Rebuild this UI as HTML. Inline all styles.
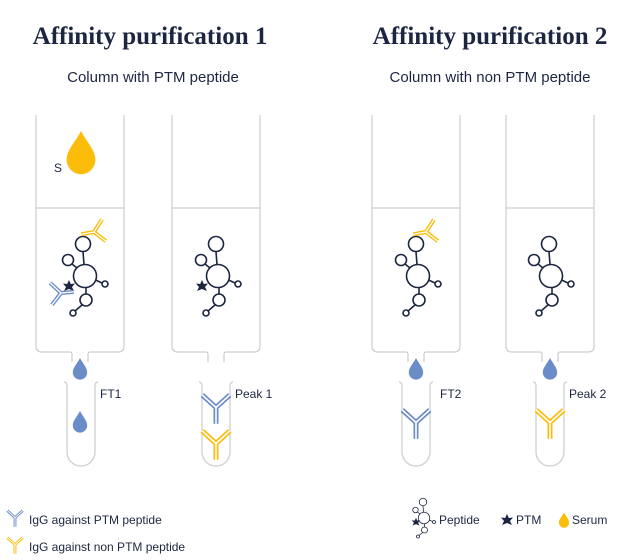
<!DOCTYPE html>
<html><head><meta charset="utf-8"><style>
body{margin:0;background:#fff}
svg{display:block}
.t{font-family:"Liberation Serif",serif;font-size:25px;fill:#1c2640;font-weight:bold}
.s{font-family:"Liberation Sans",sans-serif;font-size:15px;fill:#1c2640}
.l{font-family:"Liberation Sans",sans-serif;font-size:12px;fill:#1c2640}
</style></head><body>
<svg width="640" height="560" viewBox="0 0 640 560" xmlns="http://www.w3.org/2000/svg">
<defs>
<g id="pep" fill="none" stroke="#1c2640" stroke-width="1.6">
<circle cx="0" cy="0" r="11.5"/>
<circle cx="-2" cy="-32" r="7.5"/>
<circle cx="-17" cy="-16" r="5.5"/>
<circle cx="1" cy="24" r="6"/>
<circle cx="-12" cy="37" r="3"/>
<circle cx="20" cy="8" r="3"/>
<line x1="-1" y1="-11.5" x2="-2" y2="-24.5"/>
<line x1="-8" y1="-8" x2="-13" y2="-12"/>
<line x1="1" y1="11.5" x2="1" y2="18"/>
<line x1="-3" y1="29" x2="-10" y2="35"/>
<line x1="10.5" y1="4" x2="17" y2="7"/>
</g>
<path id="star" d="M0,-6 L1.8,-2 6,-2.5 3,1 5,5 0,3 -5,5 -3,1 -6,-2.5 -1.8,-2Z" fill="#1c2640"/>
<g id="abB"><path d="M-11,-12 L0,-2 L11,-12 M0,-2 V11" fill="none" stroke="#6a8cc9" stroke-width="4"/><path d="M-11,-12 L0,-2 L11,-12 M0,-2 V11" fill="none" stroke="#fff" stroke-width="1.3"/></g>
<g id="abY"><path d="M-11,-12 L0,-2 L11,-12 M0,-2 V11" fill="none" stroke="#fbbc0a" stroke-width="4"/><path d="M-11,-12 L0,-2 L11,-12 M0,-2 V11" fill="none" stroke="#fff" stroke-width="1.3"/></g>
<path id="drop" d="M0,-10 C2,-6 6,-2 6,2 A6,6 0 0 1 -6,2 C-6,-2 -2,-6 0,-10Z"/>
</defs>

<text class="t" x="150" y="44" text-anchor="middle">Affinity purification 1</text>
<text class="t" x="490" y="44" text-anchor="middle">Affinity purification 2</text>
<text class="s" x="153" y="82" text-anchor="middle">Column with PTM peptide</text>
<text class="s" x="490" y="82" text-anchor="middle">Column with non PTM peptide</text>

<g fill="none" stroke="#cfcfcf" stroke-width="1.3">
<path d="M36,115 V346 Q36,352 42,352 H70 Q72,352 72,355 V362 M88,362 V355 Q88,352 90,352 H118 Q124,352 124,346 V115 M36,208 H124"/>
<path d="M172,115 V346 Q172,352 178,352 H206 Q208,352 208,355 V362 M224,362 V355 Q224,352 226,352 H254 Q260,352 260,346 V115 M172,208 H260"/>
<path d="M372,115 V346 Q372,352 378,352 H406 Q408,352 408,355 V362 M424,362 V355 Q424,352 426,352 H454 Q460,352 460,346 V115 M372,208 H460"/>
<path d="M506,115 V346 Q506,352 512,352 H540 Q542,352 542,355 V362 M558,362 V355 Q558,352 560,352 H588 Q594,352 594,346 V115 M506,208 H594"/>
<path d="M64,382 Q67,382 67,386 V452 A14,14 0 0 0 95,452 V386 Q95,382 98,382"/>
<path d="M199,382 Q202,382 202,386 V452 A14,14 0 0 0 230,452 V386 Q230,382 233,382"/>
<path d="M399,382 Q402,382 402,386 V452 A14,14 0 0 0 430,452 V386 Q430,382 433,382"/>
<path d="M533,382 Q536,382 536,386 V452 A14,14 0 0 0 564,452 V386 Q564,382 567,382"/>
</g>

<use href="#drop" transform="translate(81,155) scale(2.4)" fill="#fbbc0a"/>
<text class="l" x="54" y="172">S</text>

<use href="#pep" x="85" y="276"/><use href="#star" x="69" y="286"/>
<use href="#pep" x="218" y="276"/><use href="#star" x="202" y="286"/>
<use href="#pep" x="418" y="276"/>
<use href="#pep" x="551" y="276"/>
<use href="#abY" transform="translate(94,232) rotate(80) translate(0,2)"/>
<use href="#abY" transform="translate(426,232) rotate(80) translate(0,2)"/>
<use href="#abB" transform="translate(61,293) rotate(-95) translate(0,2)"/>

<use href="#drop" transform="translate(80,370) scale(1.2)" fill="#6a8cc9"/>
<use href="#drop" transform="translate(416,370) scale(1.2)" fill="#6a8cc9"/>
<use href="#drop" transform="translate(550,370) scale(1.2)" fill="#6a8cc9"/>
<use href="#drop" transform="translate(80,423) scale(1.2)" fill="#6a8cc9"/>

<use href="#abB" transform="translate(216,410) scale(1.25)"/>
<use href="#abY" transform="translate(216,446) scale(1.25)"/>
<use href="#abB" transform="translate(416,425) scale(1.25)"/>
<use href="#abY" transform="translate(550,425) scale(1.25)"/>

<text class="l" x="100" y="398">FT1</text>
<text class="l" x="235" y="398">Peak 1</text>
<text class="l" x="440" y="398">FT2</text>
<text class="l" x="569" y="398">Peak 2</text>

<use href="#abB" transform="translate(15,519) scale(0.7)"/>
<use href="#abY" transform="translate(15,546) scale(0.7)"/>
<text class="l" x="29" y="524">IgG against PTM peptide</text>
<text class="l" x="29" y="551">IgG against non PTM peptide</text>

<use href="#pep" transform="translate(424,518) scale(0.5)"/>
<use href="#star" transform="translate(416,522) scale(0.7)"/>
<text class="l" x="439" y="524">Peptide</text>
<use href="#star" transform="translate(507,520)"/>
<text class="l" x="516" y="524">PTM</text>
<use href="#drop" transform="translate(564,521) scale(0.85)" fill="#fbbc0a"/>
<text class="l" x="572" y="524">Serum</text>
</svg>
</body></html>
